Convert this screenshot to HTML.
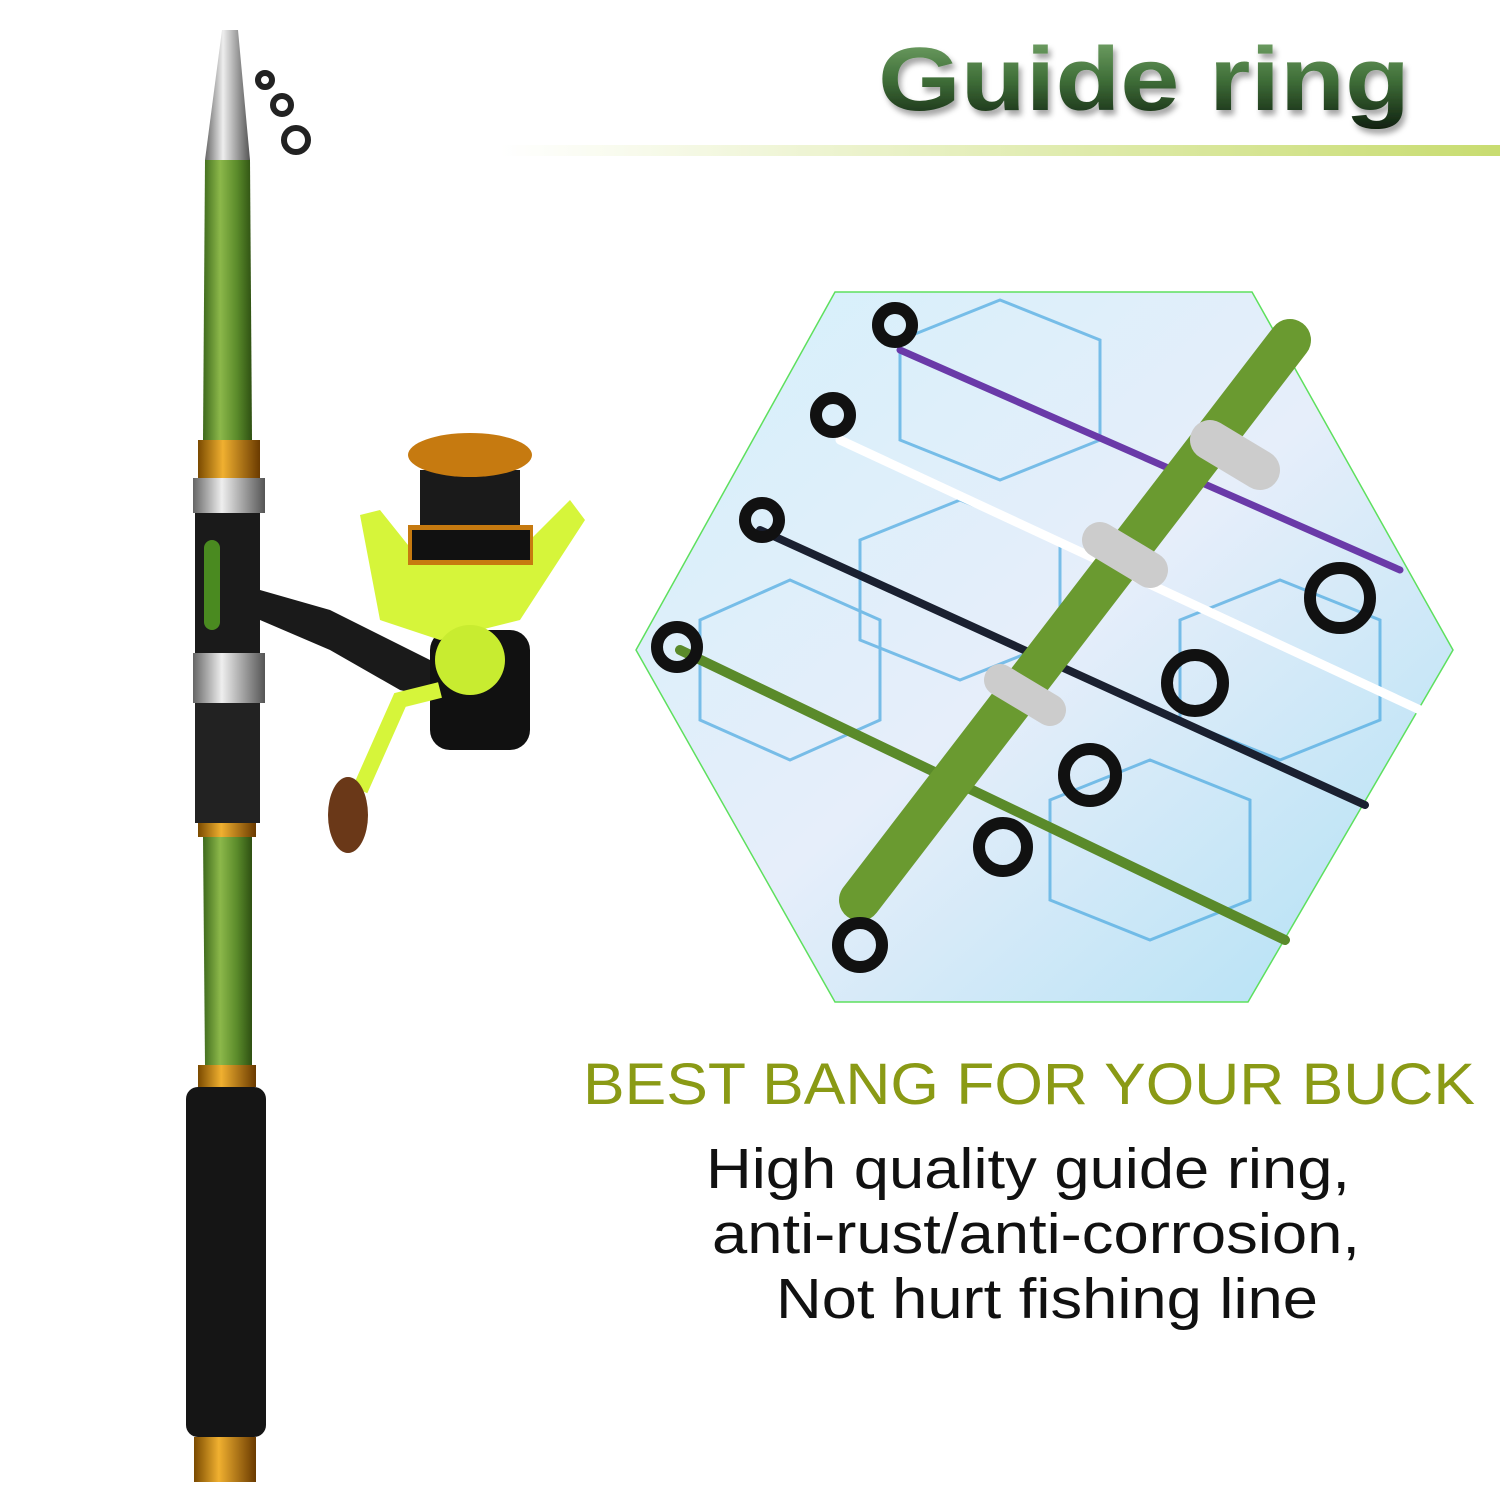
<!DOCTYPE html>
<html><head><meta charset="utf-8"><style>
html,body{margin:0;padding:0;background:#fff}
svg{display:block}
</style></head><body>
<svg width="1500" height="1500" viewBox="0 0 1500 1500" xmlns="http://www.w3.org/2000/svg" font-family="Liberation Sans, sans-serif">
<defs>
<linearGradient id="tg" x1="0" y1="0" x2="0" y2="1"><stop offset="0" stop-color="#7aab6e"/><stop offset="0.5" stop-color="#3f6e38"/><stop offset="1" stop-color="#0f1f0f"/></linearGradient>
<linearGradient id="ln" x1="0" x2="1"><stop offset="0" stop-color="#fff"/><stop offset="1" stop-color="#c8dc70"/></linearGradient>
<linearGradient id="rod" x1="0" x2="1"><stop offset="0" stop-color="#3e6a1c"/><stop offset="0.35" stop-color="#8cb84a"/><stop offset="0.7" stop-color="#5a8a2a"/><stop offset="1" stop-color="#2e5012"/></linearGradient>
<linearGradient id="sil" x1="0" x2="1"><stop offset="0" stop-color="#666"/><stop offset="0.4" stop-color="#eee"/><stop offset="1" stop-color="#555"/></linearGradient>
<linearGradient id="gold" x1="0" x2="1"><stop offset="0" stop-color="#7a4a00"/><stop offset="0.4" stop-color="#f0b030"/><stop offset="1" stop-color="#6a3a00"/></linearGradient>
<linearGradient id="hex" x1="0" y1="0" x2="1" y2="1"><stop offset="0" stop-color="#d4f0fb"/><stop offset="0.5" stop-color="#e6eefa"/><stop offset="1" stop-color="#aee0f4"/></linearGradient>
<filter id="sh"><feDropShadow dx="3" dy="5" stdDeviation="3" flood-color="#000" flood-opacity="0.35"/></filter>
</defs>
<rect width="1500" height="1500" fill="#fff"/>
<text x="878" y="110" font-size="90" font-weight="bold" fill="url(#tg)" textLength="532" lengthAdjust="spacingAndGlyphs" filter="url(#sh)">Guide ring</text>
<rect x="500" y="145" width="1000" height="11" fill="url(#ln)"/>
<polygon points="835,292 1252,292 1453,650 1248,1002 835,1002 636,650" fill="url(#hex)" stroke="#5ee05e" stroke-width="1.5"/>
<g fill="none" stroke="#4aa8e0" stroke-width="3" opacity="0.7">
<polygon points="900,340 1000,300 1100,340 1100,440 1000,480 900,440"/>
<polygon points="860,540 960,500 1060,540 1060,640 960,680 860,640"/>
<polygon points="700,620 790,580 880,620 880,720 790,760 700,720"/>
<polygon points="1180,620 1280,580 1380,620 1380,720 1280,760 1180,720"/>
<polygon points="1050,800 1150,760 1250,800 1250,900 1150,940 1050,900"/>
</g>
<g stroke-linecap="round">
<line x1="900" y1="350" x2="1400" y2="570" stroke="#6a3aa8" stroke-width="7"/>
<line x1="840" y1="440" x2="1420" y2="710" stroke="#fff" stroke-width="9"/>
<line x1="760" y1="530" x2="1365" y2="805" stroke="#1a2030" stroke-width="8"/>
<line x1="680" y1="650" x2="1285" y2="940" stroke="#5a8a2a" stroke-width="10"/>
<line x1="1290" y1="340" x2="860" y2="900" stroke="#6a9a30" stroke-width="42"/>
<line x1="1210" y1="440" x2="1260" y2="470" stroke="#ccc" stroke-width="40"/>
<line x1="1100" y1="540" x2="1150" y2="570" stroke="#ccc" stroke-width="36"/>
<line x1="1000" y1="680" x2="1050" y2="710" stroke="#ccc" stroke-width="32"/>
</g>
<g fill="none" stroke="#111" stroke-width="12">
<circle cx="1340" cy="598" r="30"/><circle cx="1195" cy="683" r="28"/><circle cx="1090" cy="775" r="26"/><circle cx="1003" cy="847" r="24"/><circle cx="860" cy="945" r="22"/>
<circle cx="895" cy="325" r="17"/><circle cx="833" cy="415" r="17"/><circle cx="762" cy="520" r="17"/><circle cx="677" cy="647" r="20"/>
</g>
<polygon points="222,30 238,30 250,160 205,160" fill="url(#sil)"/>
<g fill="none" stroke="#222" stroke-width="6"><circle cx="296" cy="140" r="12"/><circle cx="282" cy="105" r="9"/><circle cx="265" cy="80" r="7"/></g>
<polygon points="205,160 250,160 252,440 203,440" fill="url(#rod)"/>
<rect x="198" y="440" width="62" height="38" fill="url(#gold)"/>
<rect x="193" y="478" width="72" height="35" fill="url(#sil)"/>
<rect x="195" y="513" width="65" height="140" fill="#1a1a1a"/>
<rect x="204" y="540" width="16" height="90" rx="8" fill="#4a8a20"/>
<rect x="193" y="653" width="72" height="50" fill="url(#sil)"/>
<rect x="195" y="703" width="65" height="120" fill="#222"/>
<rect x="198" y="823" width="58" height="14" fill="url(#gold)"/>
<polygon points="203,837 252,837 252,1065 205,1065" fill="url(#rod)"/>
<rect x="198" y="1065" width="58" height="22" fill="url(#gold)"/>
<rect x="186" y="1087" width="80" height="350" rx="12" fill="#151515"/>
<rect x="194" y="1437" width="62" height="45" fill="url(#gold)"/>
<path d="M260,590 L330,610 L430,660 L440,700 L400,690 L330,650 L260,620Z" fill="#1a1a1a"/>
<rect x="430" y="630" width="100" height="120" rx="20" fill="#111"/>
<path d="M360,515 L380,620 L440,640 L520,620 L585,520 L570,500 L540,530 L510,560 L420,560 L380,510Z" fill="#d6f53a"/>
<circle cx="470" cy="660" r="35" fill="#c8ec30"/>
<path d="M440,690 L400,700 L360,790" stroke="#d6f53a" stroke-width="16" fill="none"/>
<ellipse cx="348" cy="815" rx="20" ry="38" fill="#6a3818"/>
<rect x="420" y="470" width="100" height="90" fill="#1a1a1a"/>
<ellipse cx="470" cy="455" rx="62" ry="22" fill="#c67a10"/>
<rect x="408" y="525" width="125" height="40" fill="#c67a10"/>
<rect x="412" y="530" width="118" height="30" fill="#111"/>
<rect x="420" y="565" width="100" height="50" fill="#d6f53a"/>
<text x="583" y="1104" font-size="58" fill="#8a9a15" textLength="892" lengthAdjust="spacingAndGlyphs">BEST BANG FOR YOUR BUCK</text>
<g font-size="57" fill="#111">
<text x="706" y="1188" textLength="644" lengthAdjust="spacingAndGlyphs">High quality guide ring,</text>
<text x="712" y="1253" textLength="648" lengthAdjust="spacingAndGlyphs">anti-rust/anti-corrosion,</text>
<text x="776" y="1318" textLength="542" lengthAdjust="spacingAndGlyphs">Not hurt fishing line</text>
</g>
</svg>
</body></html>
